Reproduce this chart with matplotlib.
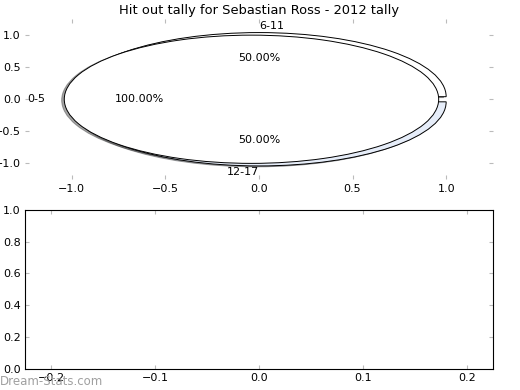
import matplotlib
matplotlib.use('Agg')
import matplotlib.pyplot as plt

# hit out tally by quarter-minute bucket
first_label = ['0-5']
first_val   = [1.0]
rest_labels = ['6-11', '12-17']
rest_vals   = [0.5, 0.5]

plt.rcParams['font.size'] = 8
plt.rcParams['xtick.direction'] = 'in'
plt.rcParams['ytick.direction'] = 'in'

fig = plt.figure(figsize=(5.2, 3.9), dpi=100)
ax1 = fig.add_axes([0.048, 0.540, 0.900, 0.411])
ax2 = fig.add_axes([0.048, 0.054, 0.900, 0.408])

shad = {'ox': -0.01, 'oy': -0.01}
wp = {'edgecolor': 'black', 'linewidth': 0.7}

w, lbl, pct = ax1.pie(rest_vals, labels=rest_labels, explode=[0.04, 0.04],
                      colors=['white', '#e6edf9'], autopct='%.2f%%', shadow=shad,
                      wedgeprops=wp, textprops={'fontsize': 8})
lbl[0].set_ha('left')
lbl[1].set_ha('right')
ax1.pie(first_val, labels=first_label, explode=[0.04],
        colors=['white'], autopct='%.2f%%', shadow=shad,
        wedgeprops=wp, textprops={'fontsize': 8})
ax1.set_aspect('auto')
ax1.set_xlim(-1.25, 1.25)
ax1.set_ylim(-1.25, 1.25)
ax1.set_xticks([-1.0, -0.5, 0.0, 0.5, 1.0])
ax1.set_yticks([-1.0, -0.5, 0.0, 0.5, 1.0])
ax1.set_title('Hit out tally for Sebastian Ross - 2012 tally', fontsize=9.4, pad=4)

ax2.set_xlim(-0.225, 0.225)
ax2.set_ylim(0, 1)
ax2.set_xticks([-0.2, -0.1, 0.0, 0.1, 0.2])
ax2.set_yticks([0.0, 0.2, 0.4, 0.6, 0.8, 1.0])

for ax in (ax1, ax2):
    ax.tick_params(top=True, right=True, length=3, color='#bbbbbb', labelsize=8, pad=3)

fig.text(0.0, 0.012, 'Dream-Stats.com', color='#a0a0a0', fontsize=8.5)

fig.savefig('out.png', dpi=100)
